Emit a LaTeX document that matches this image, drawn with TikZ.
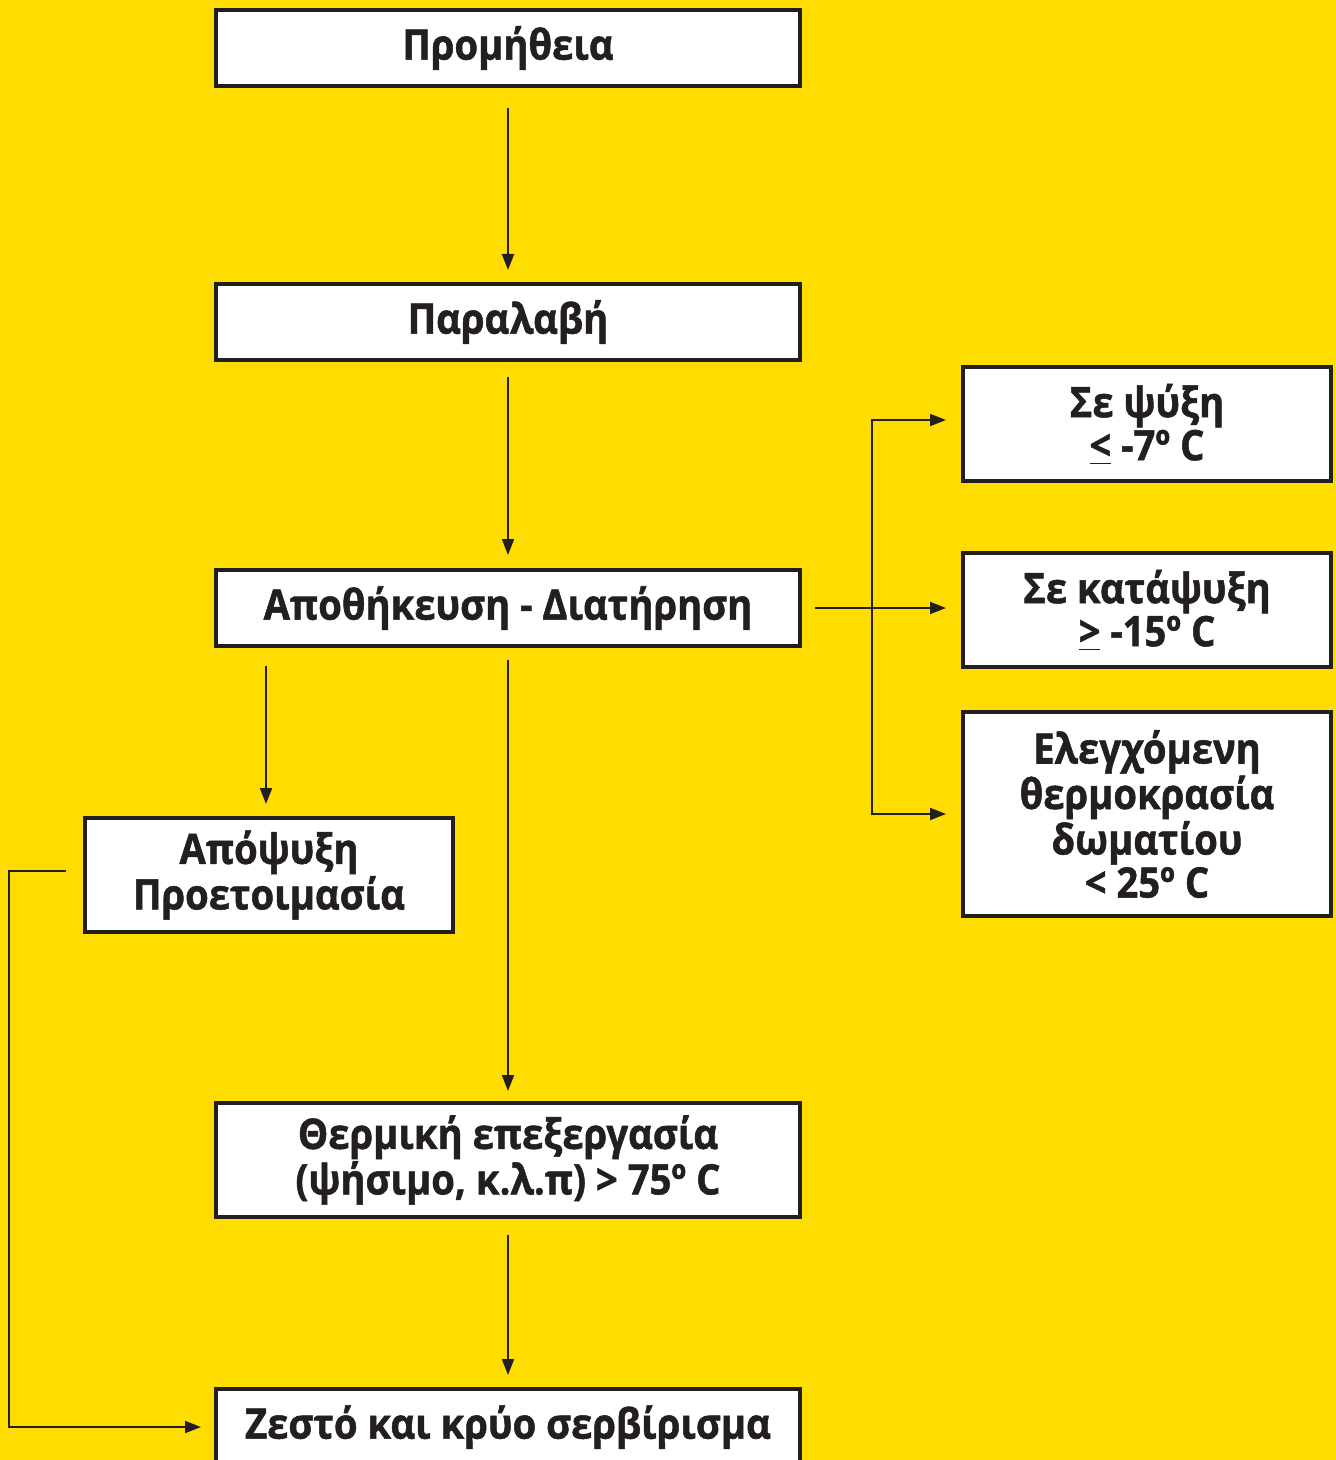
\documentclass[tikz,border=0pt]{standalone}
\usepackage{fontspec}
\setmainfont{Open Sans}[BoldFeatures={FakeStretch=0.91,FakeBold=1.2}]
\usetikzlibrary{arrows.meta}
\definecolor{bg}{HTML}{FFDD00}
\definecolor{ink}{HTML}{231F20}
\begin{document}
\begin{tikzpicture}[x=0.5pt,y=-0.5pt,
  box/.style={draw=ink, fill=white, line width=2pt, inner sep=0pt, align=center,
    text=ink, font=\bfseries\fontsize{21}{21.5}\selectfont},
  wide/.style={box, minimum width=292pt},
  narrow/.style={box, minimum width=184pt},
  arr/.style={draw=ink, line width=1pt, -{Triangle[length=8pt,width=6pt]}}]
\useasboundingbox (0,0) rectangle (1336,1460);
\clip (0,0) rectangle (1336,1460);
\fill[bg] (0,0) rectangle (1336,1460);

\node[wide, minimum height=38pt] (b1) at (508,48) {Προμήθεια};
\node[wide, minimum height=38pt] (b2) at (508,322) {Παραλαβή};
\node[wide, minimum height=38pt] (b3) at (508,608) {Αποθήκευση - Διατήρηση};
\node[narrow, minimum height=57pt] (r1) at (1147,424) {Σε ψύξη\\\underline{<} -7º C};
\node[narrow, minimum height=57pt] (r2) at (1147,610) {Σε κατάψυξη\\\underline{>} -15º C};
\node[narrow, minimum height=102pt] (r3) at (1147,814) {Ελεγχόμενη\\θερμοκρασία\\δωματίου\\< 25º C};
\node[narrow, minimum height=57pt] (a1) at (269,875) {Απόψυξη\\Προετοιμασία};
\node[wide, minimum height=57pt] (t1) at (508,1160) {Θερμική επεξεργασία\\(ψήσιμο, κ.λ.π) > 75º C};
\node[wide, minimum height=38pt] (z1) at (508,1427) {Ζεστό και κρύο σερβίρισμα};

\draw[arr, shorten <=10pt, shorten >=6pt] (b1) -- (b2);
\draw[arr, shorten <=7.5pt, shorten >=6.5pt] (b2) -- (b3);
\draw[arr, shorten <=6pt, shorten >=5pt] (b3) -- (t1);
\draw[arr, shorten <=8pt, shorten >=6pt] (t1) -- (z1);
\draw[arr, shorten <=9pt, shorten >=6pt] ([xshift=-1.5pt]a1.north |- b3.south) -- ([xshift=-1.5pt]a1.north);
\draw[arr, shorten <=6.5pt, shorten >=7.5pt] (b3.east) -- (b3.east -| r2.west);
\coordinate (jn) at (872,608);
\draw[arr, shorten >=7.5pt] (jn) |- ([yshift=2pt]r1.west);
\draw[arr, shorten >=7.5pt] (jn) |- (r3.west);
\draw[arr, shorten <=8.5pt, shorten >=6.5pt] ([yshift=2pt]a1.west) -- ++(-74,0) |- (z1.west);
\end{tikzpicture}
\end{document}
